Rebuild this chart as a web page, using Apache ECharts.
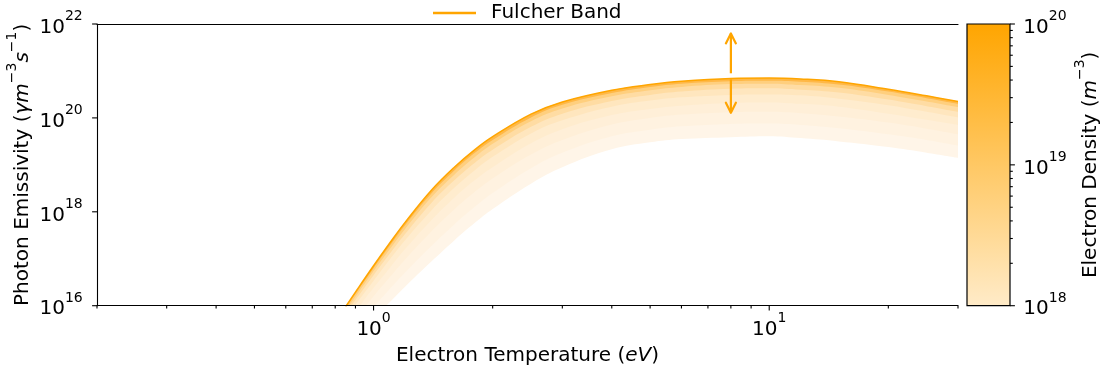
<!DOCTYPE html>
<html><head><meta charset="utf-8">
<script src="https://cdn.jsdelivr.net/npm/echarts@6/dist/echarts.min.js"></script>
<style>html,body{margin:0;padding:0;background:#fff}#c{width:1104px;height:369px}</style>
</head><body><div id="c"></div>
<script>
// ---------------- data ----------------
// electron temperature grid (eV)
const temperature = [0.85,0.9,1.0,1.1,1.2,1.4,1.6,1.8,2.0,2.5,3,4,5,6,8,10,12,15,20,25,30];
// log10 of photon emissivity for each electron density level (top -> bottom)
const logE_ne1e20    = [15.98,16.29,16.85,17.34,17.77,18.46,18.95,19.32,19.60,20.08,20.34,20.59,20.71,20.78,20.84,20.85,20.83,20.77,20.61,20.47,20.35];
const logE_ne5p6e19  = [15.94,16.25,16.80,17.28,17.71,18.39,18.88,19.25,19.53,20.01,20.28,20.53,20.66,20.73,20.78,20.79,20.77,20.71,20.56,20.42,20.30];
const logE_ne3p2e19  = [15.89,16.19,16.74,17.21,17.63,18.31,18.79,19.16,19.45,19.93,20.20,20.46,20.59,20.66,20.72,20.73,20.70,20.64,20.49,20.35,20.23];
const logE_ne1p8e19  = [15.82,16.12,16.65,17.11,17.52,18.19,18.67,19.04,19.32,19.81,20.09,20.36,20.49,20.56,20.62,20.63,20.60,20.54,20.39,20.25,20.13];
const logE_ne1e19    = [15.73,16.02,16.53,16.99,17.39,18.03,18.51,18.88,19.17,19.67,19.95,20.24,20.37,20.44,20.49,20.50,20.48,20.41,20.27,20.13,20.01];
const logE_ne5p6e18  = [15.61,15.88,16.38,16.81,17.20,17.82,18.30,18.67,18.95,19.46,19.76,20.06,20.19,20.26,20.32,20.33,20.30,20.24,20.09,19.96,19.85];
const logE_ne3p2e18  = [15.47,15.73,16.20,16.61,16.98,17.58,18.05,18.42,18.71,19.22,19.53,19.86,20.00,20.07,20.12,20.13,20.10,20.03,19.90,19.77,19.65];
const logE_ne1p8e18  = [15.29,15.53,15.97,16.36,16.70,17.27,17.73,18.10,18.40,18.93,19.26,19.61,19.75,19.82,19.87,19.88,19.85,19.78,19.65,19.53,19.41];
const logE_ne1e18    = [15.10,15.32,15.72,16.08,16.40,16.94,17.39,17.76,18.06,18.60,18.95,19.33,19.48,19.55,19.59,19.61,19.57,19.50,19.38,19.26,19.15];
const densityCurves = [logE_ne1e20, logE_ne5p6e19, logE_ne3p2e19, logE_ne1p8e19, logE_ne1e19, logE_ne5p6e18, logE_ne3p2e18, logE_ne1p8e18, logE_ne1e18];
const densityNames  = ['1e20','5.6e19','3.2e19','1.8e19','1e19','5.6e18','3.2e18','1.8e18','1e18'];
// annotation arrow (T, log10 start, log10 end)
const arrowT = 8;
const arrowSegments = [[20.95, 21.80], [20.82, 20.11]];
// ticks
const xMajorTicks = [1, 10];
const xMinorTicks = [0.2,0.3,0.4,0.5,0.6,0.7,0.8,0.9,2,3,4,5,6,7,8,9,20,30];
const yMajorTicks = [1e16, 1e18, 1e20, 1e22];
const cbMajorTicks = [1e18, 1e19, 1e20];
const cbMinorTicks = [2e18,3e18,4e18,5e18,6e18,7e18,8e18,9e18,2e19,3e19,4e19,5e19,6e19,7e19,8e19,9e19];

// ---------------- styles ----------------
const FONT = 'DejaVu Sans', FS = 20, FSS = 14;
const ORANGE = '#ffa500';
const fillColors = ['#ffb847','#ffcf7e','#ffdca3','#ffe6be','#ffecce','#ffefd8','#fff2e0','#fff5e8','#ffffff'];
const MAJ = 4.9, MIN = 2.8, PAD = 4.9, TW = 1.1;

const zrRich = {
  b: {fontFamily: FONT, fontSize: FS, lineHeight: 28, verticalAlign: 'bottom', fill: '#000'},
  s: {fontFamily: FONT, fontSize: FSS, lineHeight: 14, verticalAlign: 'top', fill: '#000'}
};
const optRich = {
  i: {fontFamily: FONT, fontSize: FS, fontStyle: 'italic', lineHeight: 28, verticalAlign: 'bottom', color: '#000'},
  n: {fontFamily: FONT, fontSize: FS, lineHeight: 28, verticalAlign: 'bottom', color: '#000'},
  s: {fontFamily: FONT, fontSize: FSS, lineHeight: 14, verticalAlign: 'top', color: '#000'}
};
function supLabel(v) {
  const e = Math.round(Math.log10(v));
  return '{b|10}{s|' + String(e).replace('-', '\u2212') + '}';
}

const chart = echarts.init(document.getElementById('c'), null, {renderer: 'canvas', width: 1104, height: 369});

const SMOOTH = 0.4;
const series = [];
densityCurves.forEach((curve, i) => {
  series.push({
    name: 'n' + densityNames[i], type: 'line', xAxisIndex: 0, yAxisIndex: 0,
    data: temperature.map((t, k) => [t, Math.pow(10, curve[k])]),
    showSymbol: false, smooth: SMOOTH, silent: true, z: 2,
    lineStyle: {width: 0, color: 'rgba(0,0,0,0)'},
    areaStyle: {color: fillColors[i], opacity: 1, origin: 'start'}
  });
});
series.push({
  name: 'Fulcher Band', type: 'line', xAxisIndex: 0, yAxisIndex: 0,
  data: temperature.map((t, k) => [t, Math.pow(10, logE_ne1e20[k])]),
  showSymbol: false, smooth: SMOOTH, silent: true, z: 3, color: ORANGE,
  lineStyle: {width: 1.5, color: ORANGE}
});
// arrows
series.push({
  type: 'custom', xAxisIndex: 0, yAxisIndex: 0, silent: true, z: 5, clip: false,
  data: arrowSegments.map(s => [arrowT, Math.pow(10, s[0]), Math.pow(10, s[1])]),
  encode: {x: 0, y: [1, 2]},
  renderItem(params, api) {
    const p0 = api.coord([api.value(0), api.value(1)]);
    const p1 = api.coord([api.value(0), api.value(2)]);
    const dx = p1[0] - p0[0], dy = p1[1] - p0[1], L = Math.hypot(dx, dy);
    const ux = dx / L, uy = dy / L, nx = -uy, ny = ux, hl = 10, hw = 5;
    return {type: 'group', children: [
      {type: 'line', shape: {x1: p0[0], y1: p0[1], x2: p1[0], y2: p1[1]}, style: {stroke: ORANGE, lineWidth: 2.2}},
      {type: 'polyline', shape: {points: [[p1[0] - ux*hl + nx*hw, p1[1] - uy*hl + ny*hw], [p1[0], p1[1]], [p1[0] - ux*hl - nx*hw, p1[1] - uy*hl - ny*hw]]},
       style: {stroke: ORANGE, lineWidth: 2.2, fill: null, lineJoin: 'round', lineCap: 'round'}}
    ]};
  }
});
// x ticks + labels
series.push({
  type: 'custom', xAxisIndex: 0, yAxisIndex: 0, silent: true, z: 20, clip: false,
  data: xMajorTicks.map(v => [v, 1e16, 1]).concat(xMinorTicks.map(v => [v, 1e16, 0])),
  encode: {x: 0, y: 1},
  renderItem(params, api) {
    const v = api.value(0), major = api.value(2);
    const p = api.coord([v, api.value(1)]);
    const len = major ? MAJ : MIN;
    const ch = [{type: 'line', shape: {x1: p[0], y1: p[1], x2: p[0], y2: p[1] + len}, style: {stroke: '#000', lineWidth: TW}}];
    if (major) ch.push({type: 'text', style: {text: supLabel(v), x: p[0], y: p[1] + len + PAD - 4, align: 'center', verticalAlign: 'top', rich: zrRich, fill: '#000'}});
    return {type: 'group', children: ch};
  }
});
// y ticks + labels
series.push({
  type: 'custom', xAxisIndex: 0, yAxisIndex: 0, silent: true, z: 20, clip: false,
  data: yMajorTicks.map(v => [0.2, v]),
  encode: {x: 0, y: 1},
  renderItem(params, api) {
    const v = api.value(1);
    const p = api.coord([api.value(0), v]);
    return {type: 'group', children: [
      {type: 'line', shape: {x1: p[0] - MAJ, y1: p[1], x2: p[0], y2: p[1]}, style: {stroke: '#000', lineWidth: TW}},
      {type: 'text', style: {text: supLabel(v), x: p[0] - MAJ - PAD - 4.5, y: p[1] - 0.5, align: 'right', verticalAlign: 'middle', rich: zrRich, fill: '#000'}}
    ]};
  }
});
// colorbar fill
series.push({
  type: 'custom', xAxisIndex: 2, yAxisIndex: 1, silent: true, z: 2, clip: false,
  data: [[0, 1e18, 1, 1e20]],
  encode: {x: [0, 2], y: [1, 3]},
  renderItem(params, api) {
    const a = api.coord([api.value(0), api.value(1)]);
    const b = api.coord([api.value(2), api.value(3)]);
    return {type: 'rect', shape: {x: a[0], y: b[1], width: b[0] - a[0], height: a[1] - b[1]},
      style: {fill: new echarts.graphic.LinearGradient(0, 0, 0, 1, [{offset: 0, color: ORANGE}, {offset: 1, color: '#ffebc8'}]), stroke: '#000', lineWidth: 1.2}};
  }
});
// colorbar ticks + labels
series.push({
  type: 'custom', xAxisIndex: 2, yAxisIndex: 1, silent: true, z: 20, clip: false,
  data: cbMajorTicks.map(v => [1, v, 1]).concat(cbMinorTicks.map(v => [1, v, 0])),
  encode: {x: 0, y: 1},
  renderItem(params, api) {
    const v = api.value(1), major = api.value(2);
    const p = api.coord([api.value(0), v]);
    const len = major ? MAJ : MIN;
    const ch = [{type: 'line', shape: {x1: p[0], y1: p[1], x2: p[0] + len, y2: p[1]}, style: {stroke: '#000', lineWidth: TW}}];
    if (major) ch.push({type: 'text', style: {text: supLabel(v), x: p[0] + MAJ + PAD + 3.5, y: p[1] - 0.5, align: 'left', verticalAlign: 'middle', rich: zrRich, fill: '#000'}});
    return {type: 'group', children: ch};
  }
});

const axLine = {show: true, onZero: false, lineStyle: {color: '#000', width: 1.1}};
chart.setOption({
  animation: false,
  backgroundColor: '#fff',
  textStyle: {fontFamily: FONT},
  legend: {
    data: ['Fulcher Band'], left: 433, top: 3, padding: 0, icon: 'rect', itemWidth: 43, itemHeight: 2.6,
    textStyle: {fontFamily: FONT, fontSize: FS, color: '#000', padding: [0, 0, 0, 10]}
  },
  grid: [
    {left: 97, top: 24, width: 861, height: 281.7, outerBoundsMode: 'none', containLabel: false},
    {left: 967, top: 24, width: 43, height: 281.7, outerBoundsMode: 'none', containLabel: false}
  ],
  xAxis: [
    {type: 'log', gridIndex: 0, min: 0.2, max: 30, z: 10, axisLine: axLine, axisTick: {show: false}, axisLabel: {show: false}, splitLine: {show: false},
     name: '{n|Electron Temperature (}{i|eV}{n|)}', nameLocation: 'middle', nameGap: 32,
     nameTextStyle: {fontFamily: FONT, fontSize: FS, color: '#000', rich: optRich}},
    {type: 'log', gridIndex: 0, min: 0.2, max: 30, position: 'top', z: 10, axisLine: axLine, axisTick: {show: false}, axisLabel: {show: false}, splitLine: {show: false}},
    {type: 'value', gridIndex: 1, min: 0, max: 1, show: false}
  ],
  yAxis: [
    {type: 'log', gridIndex: 0, min: 1e16, max: 1e22, z: 10, axisLine: axLine, axisTick: {show: false}, axisLabel: {show: false}, splitLine: {show: false},
     name: '{n|Photon Emissivity (}{i|\u03b3m}{s|\u22123}{i|s}{s|\u22121}{n|)}', nameLocation: 'middle', nameRotate: 90, nameGap: 64,
     nameTextStyle: {fontFamily: FONT, fontSize: FS, color: '#000', rich: optRich}},
    {type: 'log', gridIndex: 1, min: 1e18, max: 1e20, position: 'right', axisLine: {show: false}, axisTick: {show: false}, axisLabel: {show: false}, splitLine: {show: false},
     name: '{n|Electron Density (}{i|m}{s|\u22123}{n|)}', nameLocation: 'middle', nameRotate: 90, nameGap: 63,
     nameTextStyle: {fontFamily: FONT, fontSize: FS, color: '#000', rich: optRich}}
  ],
  series: series
});
</script>
</body></html>
